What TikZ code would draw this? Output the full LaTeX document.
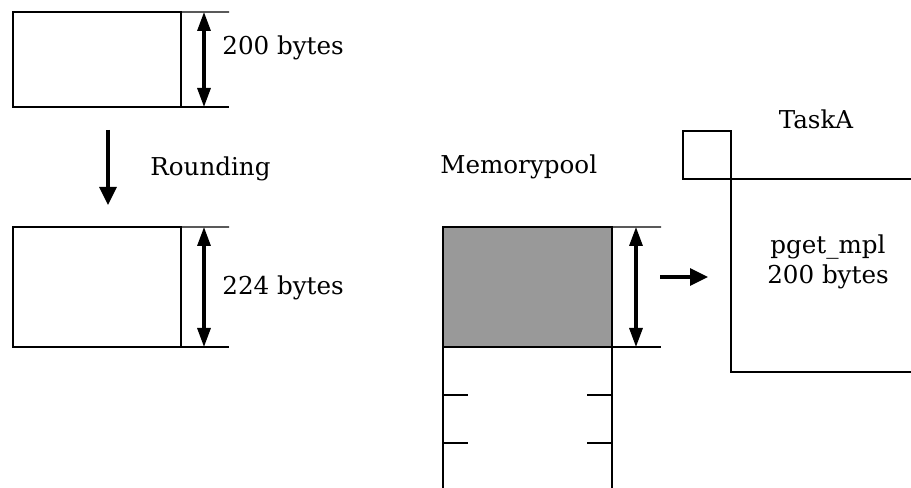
\documentclass[tikz,border=0pt]{standalone}
\usepackage{fontspec}
\setmainfont{DejaVu Serif}
\usepackage{tikz}
\usetikzlibrary{arrows.meta}
\definecolor{poolgray}{RGB}{153,153,153}

\tikzset{
  blockbox/.style={draw, line width=1.4pt, minimum width=3.36cm, inner sep=0pt, outer sep=0pt, anchor=south west},
  extline/.style={line width=0.7pt},
  thinline/.style={line width=0.85pt},
  dimarrow/.style={{Triangle[length=0.38cm,width=0.26cm]}-{Triangle[length=0.38cm,width=0.26cm]}, line width=1.8pt},
  bigarrow/.style={-{Triangle[length=0.36cm,width=0.34cm]}, line width=1.9pt},
  txt/.style={font=\fontsize{14}{17}\selectfont, inner sep=0pt}
}

\begin{document}
\begin{tikzpicture}
    \useasboundingbox (0,0) rectangle (18.22,9.76);

    % Requested block (200 bytes)
    \node[blockbox, minimum height=1.9cm] (reqblock) at (0.26,7.62) {};
    \coordinate (reqtop) at (4.58,9.52);
    \coordinate (reqbot) at (4.58,7.62);
    \draw[extline] (reqblock.north east) -- (reqtop);
    \draw[extline] (reqblock.south east) -- (reqbot);
    \draw[dimarrow] (4.08,9.52) coordinate (reqdimA) -- (4.08,7.62) coordinate (reqdimB);
    \node[txt, anchor=west] (reqsize) at (4.44,8.80) {200 bytes};

    % Rounding step
    \coordinate (roundfrom) at (2.16,7.16);
    \coordinate (roundto) at (2.16,5.66);
    \draw[bigarrow] (roundfrom) -- (roundto);
    \node[txt, anchor=west] (rounding) at (3.0,6.38) {Rounding};

    % Rounded block (224 bytes)
    \node[blockbox, minimum height=2.4cm] (rndblock) at (0.26,2.82) {};
    \coordinate (rndtop) at (4.58,5.22);
    \coordinate (rndbot) at (4.58,2.82);
    \draw[extline] (rndblock.north east) -- (rndtop);
    \draw[extline] (rndblock.south east) -- (rndbot);
    \draw[dimarrow] (4.08,5.22) coordinate (rnddimA) -- (4.08,2.82) coordinate (rnddimB);
    \node[txt, anchor=west] (rndsize) at (4.44,4.00) {224 bytes};

    % Memory pool
    \node[txt, anchor=west] (poolname) at (8.8,6.42) {Memorypool};
    \node[blockbox, fill=poolgray, minimum width=3.38cm, minimum height=2.4cm] (pool) at (8.86,2.82) {};
    \coordinate (pooltop) at (13.22,5.22);
    \coordinate (poolbot) at (13.22,2.82);
    \draw[extline] (pool.north east) -- (pooltop);
    \draw[extline] (pool.south east) -- (poolbot);
    \draw[dimarrow] (12.72,5.22) coordinate (pooldimA) -- (12.72,2.82) coordinate (pooldimB);
    \draw[line width=1.4pt] (pool.south west) -- (pool.south west |- 0,0);
    \draw[line width=1.4pt] (pool.south east) -- (pool.south east |- 0,0);
    \foreach \ty in {1.86,0.9} {
        \draw[thinline] (8.86,\ty) -- ++(0.5,0);
        \draw[thinline] (12.24,\ty) -- ++(-0.5,0);
    }

    % Get arrow
    \coordinate (getfrom) at (13.2,4.22);
    \coordinate (getto) at (14.16,4.22);
    \draw[bigarrow] (getfrom) -- (getto);

    % TaskA
    \node[txt] (taskname) at (16.32,7.38) {TaskA};
    \node[draw, thinline, minimum size=0.96cm, inner sep=0pt, outer sep=0pt, anchor=south west] (tcb) at (13.66,6.18) {};
    \coordinate (tasktr) at (18.22,6.18);
    \coordinate (taskbr) at (18.22,2.32);
    \draw[thinline] (tcb.south west) -- (tasktr);
    \draw[thinline] (tcb.south east) -- (tcb.south east |- taskbr) -- (taskbr);
    \node[txt, align=center] (taskget) at (16.56,4.52) {pget\_mpl\\200 bytes};
\end{tikzpicture}
\end{document}
